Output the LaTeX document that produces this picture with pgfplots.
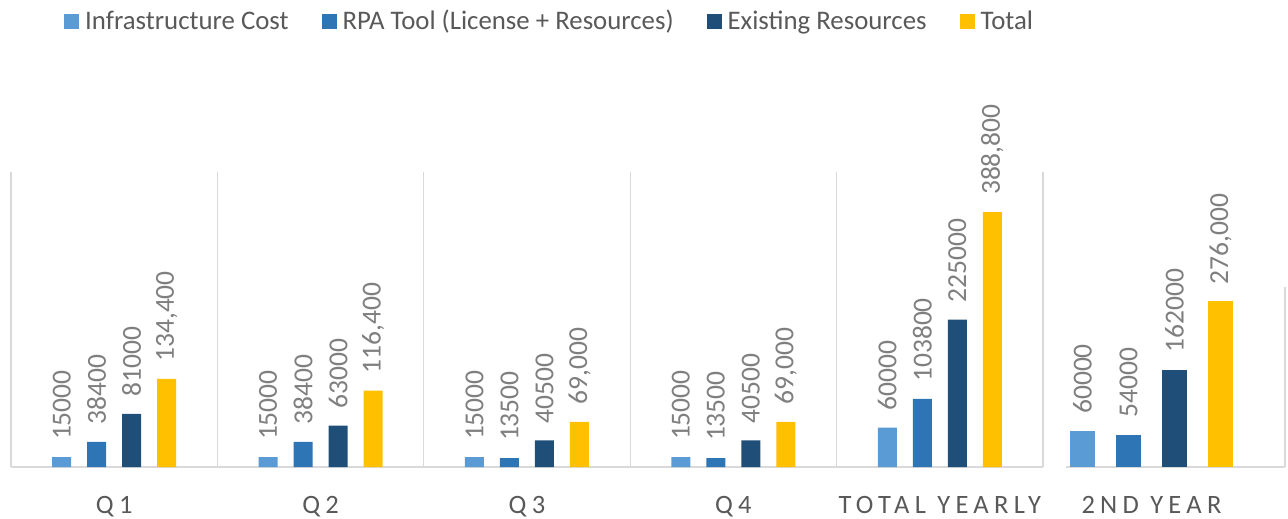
\documentclass[border=0pt]{standalone}
\usepackage{graphicx}
\usepackage{pgfplots}
\pgfplotsset{compat=1.18}
\usepackage{pgfplotstable}
\usepackage{fontspec}
\setmainfont{Carlito}
\newfontfamily\catfont[LetterSpace=20]{Carlito}
\definecolor{cInfra}{HTML}{5B9BD5}
\definecolor{cRPA}{HTML}{2E75B6}
\definecolor{cExist}{HTML}{1F4E79}
\definecolor{cTotal}{HTML}{FFC000}
\definecolor{gridc}{HTML}{D9D9D9}
\definecolor{lblc}{HTML}{7F7F7F}
\definecolor{txtc}{HTML}{595959}

\pgfplotstableread{
x infra rpa exist total
0 15000 38400 81000 134400
1 15000 38400 63000 116400
2 15000 13500 40500 69000
3 15000 13500 40500 69000
4 60000 103800 225000 388800
}\firsttab
\pgfplotstableread{
x infra rpa exist total
0 60000 54000 162000 276000
}\secondtab

\pgfplotsset{
  common/.style={
    scale only axis, clip=false,
    axis x line*=bottom, axis y line=none,
    x axis line style={draw=gridc, line width=1.3bp, -},
    ymin=0, ytick=\empty,
    major tick length=0pt, minor tick length=0pt,
    xminorgrids, minor grid style={draw=gridc, line width=1.3bp},
    xticklabel style={font=\catfont\fontsize{26.5bp}{30bp}\selectfont, text=txtc, anchor=base, yshift=-46bp},
    nodes near coords={\rotatebox{90}{\pgfmathprintnumber[fixed,precision=0,1000 sep={},assume math mode=true]{\pgfplotspointmeta}}},
    nodes near coords style={font=\fontsize{27.5bp}{31bp}\selectfont, text=lblc, anchor=south, inner ysep=17bp, inner xsep=0pt},
  },
  totlbl/.style={nodes near coords={\rotatebox{90}{\pgfmathprintnumber[fixed,precision=0,1000 sep={,},assume math mode=true]{\pgfplotspointmeta}}}},
  sqleg/.style={legend image code/.code={\fill[##1,draw=none] (0bp,-9bp) rectangle (15bp,6bp);}},
}

\begin{document}
\begin{tikzpicture}
\path[use as bounding box] (0,0) rectangle (1288bp,519bp);
\begin{axis}[common,
  at={(11bp,52bp)}, anchor=south west,
  width=1032bp, height=295bp,
  ybar=16bp, bar width=19bp,
  xmin=-0.5, xmax=4.5, ymax=450000,
  xtick={0,1,2,3,4},
  xticklabels={Q1,Q2,Q3,Q4,TOTAL YEARLY},
  minor xtick={-0.5,0.5,1.5,2.5,3.5,4.5},
  legend columns=4,
  legend style={at={(0.05136,1.4814)}, anchor=south west, draw=none, fill=none,
    inner sep=0pt, font=\fontsize{26.8bp}{30bp}\selectfont, text=txtc,
    nodes={inner sep=0pt, text depth=0pt},
    /tikz/every odd column/.append style={column sep=6bp},
    /tikz/every even column/.append style={column sep=33bp}},
]
\addplot[fill=cInfra, draw=none, sqleg] table[x=x,y=infra] {\firsttab};
\addlegendentry{Infrastructure Cost}
\addplot[fill=cRPA, draw=none, sqleg] table[x=x,y=rpa] {\firsttab};
\addlegendentry{RPA Tool (License + Resources)}
\addplot[fill=cExist, draw=none, sqleg] table[x=x,y=exist] {\firsttab};
\addlegendentry{Existing Resources}
\addplot[fill=cTotal, draw=none, totlbl, sqleg] table[x=x,y=total] {\firsttab};
\addlegendentry{Total}
\end{axis}
\begin{axis}[common,
  at={(1066bp,52bp)}, anchor=south west,
  width=219bp, height=180bp,
  ybar=21bp, bar width=25bp,
  xmin=-0.32, xmax=0.5, ymax=300000,
  xtick={0}, xticklabels={2ND YEAR},
  minor xtick={0.5},
]
\addplot[fill=cInfra, draw=none] table[x=x,y=infra] {\secondtab};
\addplot[fill=cRPA, draw=none] table[x=x,y=rpa] {\secondtab};
\addplot[fill=cExist, draw=none] table[x=x,y=exist] {\secondtab};
\addplot[fill=cTotal, draw=none, totlbl] table[x=x,y=total] {\secondtab};
\end{axis}
\end{tikzpicture}
\end{document}
